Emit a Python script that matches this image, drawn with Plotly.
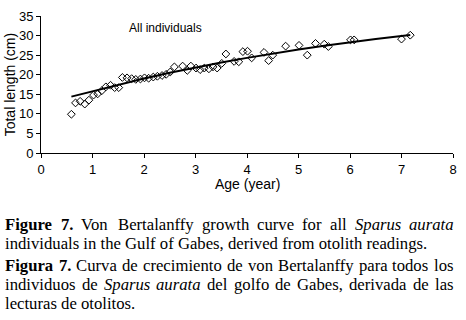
import plotly.graph_objects as go

# ---- data ----
ages = [0.59, 0.67, 0.76, 0.85, 0.93, 1.02, 1.10, 1.18, 1.26, 1.35, 1.43, 1.51,
        1.58, 1.67, 1.76, 1.84, 1.93, 2.01, 2.09, 2.18, 2.26, 2.35, 2.43, 2.51,
        2.59, 2.75, 2.84, 2.91, 3.01, 3.09, 3.17, 3.26, 3.34, 3.42, 3.51, 3.59,
        3.75, 3.84, 3.92, 4.01, 4.09, 4.33, 4.42, 4.50, 4.75, 5.01, 5.17, 5.33,
        5.50, 5.58, 6.01, 6.08, 7.00, 7.17]
lengths = [9.9, 12.8, 13.2, 12.5, 13.5, 14.8, 15.1, 15.9, 16.9, 17.3, 16.7, 16.7,
           19.3, 19.2, 19.0, 18.8, 18.9, 19.2, 19.1, 19.4, 19.6, 19.8, 20.1, 20.7,
           22.0, 22.2, 21.1, 22.2, 21.7, 21.3, 21.7, 21.5, 22.0, 21.7, 22.9, 25.3,
           23.4, 23.3, 25.9, 26.0, 24.3, 25.7, 23.6, 25.0, 27.3, 27.5, 25.0, 28.0,
           27.8, 27.2, 28.9, 28.9, 29.1, 30.1]
fit_ages = [0.59, 1.0, 1.5, 2.0, 2.5, 3.0, 3.5, 4.0, 4.5, 5.0, 5.5, 6.0, 6.5, 7.0, 7.17]
fit_lengths = [14.4, 15.8, 17.5, 19.05, 20.5, 21.85, 23.1, 24.3, 25.4, 26.45, 27.4,
               28.3, 29.15, 29.9, 30.15]
x_ticks = [0, 1, 2, 3, 4, 5, 6, 7, 8]
y_ticks = [0, 5, 10, 15, 20, 25, 30, 35]

W, H = 466, 320
L, R, T, B = 41, 9, 15, 167
PW, PH = W - L - R, H - T - B

def px_x(px):
    return (px - L) / PW

def px_y(py):
    return (H - B - py) / PH

SANS = "Liberation Sans, Arial, sans-serif"
SERIF = "Liberation Serif, Times New Roman, serif"

fig = go.Figure()
fig.add_trace(go.Scatter(x=fit_ages, y=fit_lengths, mode="lines",
                         line=dict(color="black", width=2), showlegend=False))
fig.add_trace(go.Scatter(x=ages, y=lengths, mode="markers",
                         marker=dict(symbol="diamond-open", size=6,
                                     color="black", line=dict(width=1)),
                         showlegend=False))

axis_common = dict(showgrid=False, zeroline=False, showline=True, linecolor="black",
                   linewidth=1, ticks="outside", ticklen=4, tickcolor="black",
                   tickwidth=1, tickfont=dict(family=SANS, size=13, color="black"))
fig.update_xaxes(range=[0, 8], tickvals=x_ticks, ticktext=[str(v) for v in x_ticks],
                 **axis_common)
fig.update_yaxes(range=[0, 35], tickvals=y_ticks, ticktext=[str(v) for v in y_ticks],
                 **axis_common)

ann = []
ann.append(dict(text="All individuals", x=2.41, y=32.0, xref="x", yref="y",
                showarrow=False, font=dict(family=SANS, size=12, color="black")))
ann.append(dict(text="Age (year)", x=px_x(249.5), y=px_y(184), xref="paper",
                yref="paper", showarrow=False, yanchor="middle",
                font=dict(family=SANS, size=14, color="black")))
ann.append(dict(text="Total length (cm)", x=px_x(9.5), y=px_y(84), xref="paper",
                yref="paper", showarrow=False, textangle=-90, xanchor="center",
                yanchor="middle", font=dict(family=SANS, size=14, color="black")))

# caption (justified lines placed word by word)
CAP = 16.7
lines = [
    (225.3, [(4, "<b>Figure</b>"), (59.7, "<b>7.</b>"), (80.7, "Von"),
             (117.9, "Bertalanffy"), (202.4, "growth"), (258.2, "curve"),
             (303.7, "for"), (331.6, "all"), (356.7, "<i>Sparus</i>"),
             (411.5, "<i>aurata</i>")]),
    (244.3, [(4, "individuals in the Gulf of Gabes, derived from otolith readings.")]),
    (266.3, [(4, "<b>Figura</b>"), (57.7, "<b>7.</b>"), (75.6, "Curva"), (121.9, "de"),
             (143.1, "crecimiento"), (227.4, "de"), (248.6, "von"),
             (279.1, "Bertalanffy"), (360.7, "para"), (394.9, "todos"),
             (436.5, "los")]),
    (285.3, [(4, "individuos"), (81.1, "de"), (103.4, "<i>Sparus</i>"),
             (156.4, "<i>aurata</i>"), (207.4, "del"), (234.4, "golfo"),
             (276.2, "de"), (298.5, "Gabes,"), (351.0, "derivada"), (415.1, "de"),
             (437.4, "las")]),
    (304.3, [(4, "lecturas de otolitos.")]),
]
for yc, words in lines:
    for xp, w in words:
        ann.append(dict(text=w, x=px_x(xp), y=px_y(yc), xref="paper", yref="paper",
                        xanchor="left", yanchor="middle", showarrow=False,
                        borderpad=0, font=dict(family=SERIF, size=CAP, color="black")))

fig.update_layout(width=W, height=H, margin=dict(l=L, r=R, t=T, b=B),
                  paper_bgcolor="white", plot_bgcolor="white", annotations=ann)

fig.write_html("out.html", config={"displayModeBar": False},
               post_script="document.body.style.margin='0';"
                           "document.body.style.overflow='hidden';")
